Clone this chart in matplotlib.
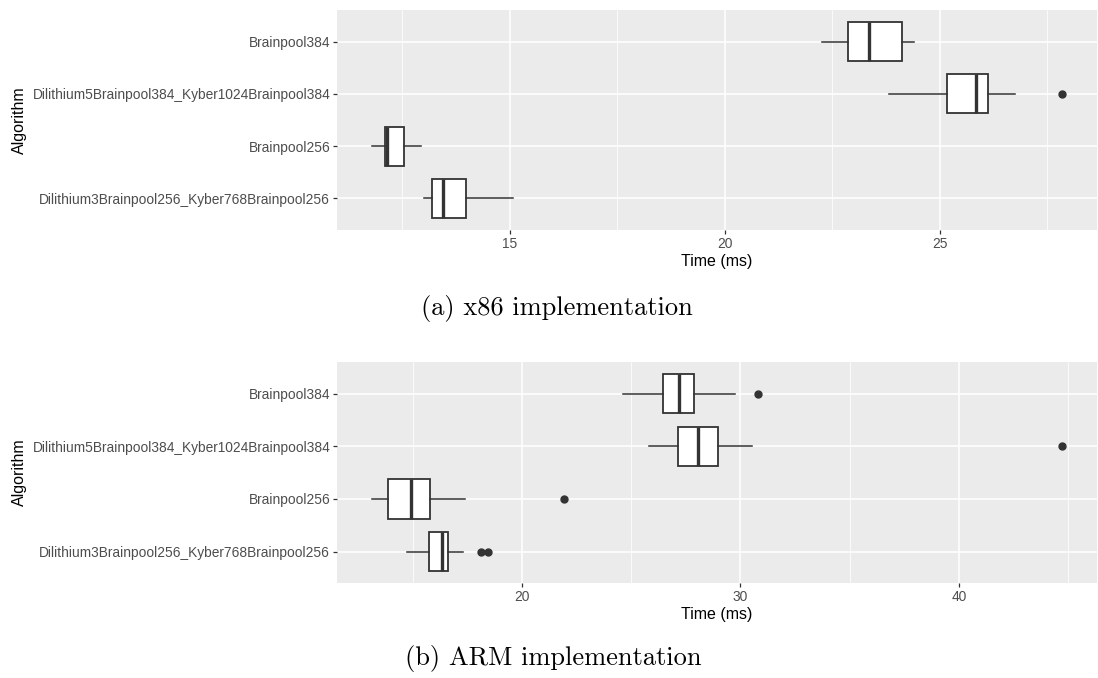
import matplotlib
matplotlib.use("Agg")
import matplotlib.pyplot as plt
from matplotlib.ticker import MultipleLocator

plt.rcParams["font.family"] = ["Liberation Sans", "DejaVu Sans"]

# Categories, bottom to top as drawn
algorithms = ["Dilithium3Brainpool256_Kyber768Brainpool256",
              "Brainpool256",
              "Dilithium5Brainpool384_Kyber1024Brainpool384",
              "Brainpool384"]

# x86 box stats (ms): whisker low, q1, median, q3, whisker high, outliers
x86_lo = [13.00, 11.79, 23.82, 22.27]
x86_q1 = [13.20, 12.11, 25.16, 22.87]
x86_med = [13.46, 12.15, 25.83, 23.35]
x86_q3 = [13.99, 12.54, 26.12, 24.11]
x86_hi = [15.09, 12.95, 26.74, 24.39]
x86_out = [[], [], [27.85], []]

# ARM box stats (ms)
arm_lo = [14.72, 13.12, 25.82, 24.64]
arm_q1 = [15.74, 13.85, 27.15, 26.44]
arm_med = [16.32, 14.92, 28.04, 27.19]
arm_q3 = [16.63, 15.80, 28.99, 27.88]
arm_hi = [17.31, 17.38, 30.52, 29.77]
arm_out = [[18.11, 18.45], [21.93], [44.73], [30.79]]

captions = ["(a) x86 implementation", "(b) ARM implementation"]

dark = "#333333"


def make_stats(lo, q1, med, q3, hi, out):
    return [dict(whislo=a, q1=b, med=c, q3=d, whishi=e, fliers=f, label=n)
            for a, b, c, d, e, f, n in zip(lo, q1, med, q3, hi, out, algorithms)]


def style_panel(ax, major, minor):
    ax.set_facecolor("#EBEBEB")
    for s in ax.spines.values():
        s.set_visible(False)
    ax.xaxis.set_major_locator(MultipleLocator(major))
    ax.xaxis.set_minor_locator(MultipleLocator(minor))
    ax.grid(which="major", color="white", linewidth=1.1)
    ax.grid(which="minor", axis="x", color="white", linewidth=0.55)
    ax.set_axisbelow(True)
    ax.tick_params(axis="both", which="major", length=3, width=0.9, color=dark,
                   labelsize=9.9, labelcolor="#4D4D4D", pad=2)
    ax.tick_params(axis="x", which="minor", length=0)
    ax.set_ylim(0.4, 4.6)
    ax.set_xlabel("Time (ms)", fontsize=11.5, labelpad=2)
    ax.set_ylabel("Algorithm", fontsize=11.5, labelpad=4)


fig = plt.figure(figsize=(10.98, 6.78), dpi=100)
ax1 = fig.add_axes([0.307, 0.661, 0.692, 0.324])
ax2 = fig.add_axes([0.307, 0.140, 0.692, 0.326])

panels = [
    (ax1, make_stats(x86_lo, x86_q1, x86_med, x86_q3, x86_hi, x86_out), (10.99, 28.65), 5, 2.5),
    (ax2, make_stats(arm_lo, arm_q1, arm_med, arm_q3, arm_hi, arm_out), (11.54, 46.31), 10, 5),
]

for ax, stats, xlim, major, minor in panels:
    ax.bxp(stats, positions=[1, 2, 3, 4], vert=False, widths=0.75, showcaps=False,
           patch_artist=True,
           boxprops=dict(facecolor="white", edgecolor=dark, linewidth=1.3),
           whiskerprops=dict(color=dark, linewidth=1.1),
           medianprops=dict(color=dark, linewidth=2.4),
           flierprops=dict(marker="o", markersize=5, markerfacecolor=dark,
                           markeredgecolor=dark))
    ax.set_xlim(*xlim)
    style_panel(ax, major, minor)

fig.text(557 / 1098, 1 - 308 / 678, captions[0], fontsize=19, family="cmr10",
         ha="center", va="center")
fig.text(553 / 1098, 1 - 658 / 678, captions[1], fontsize=19, family="cmr10",
         ha="center", va="center")

fig.savefig("out.png", dpi=100)
